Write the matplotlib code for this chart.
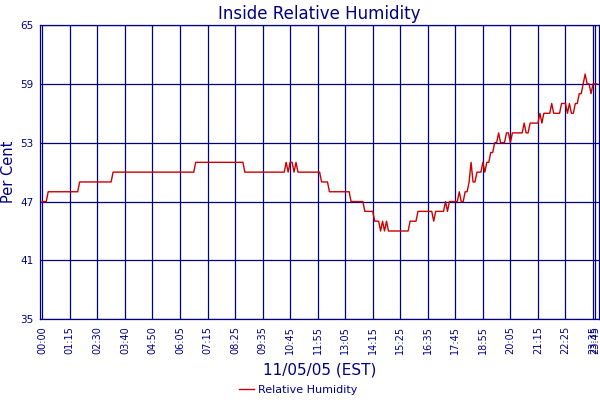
import numpy as np
import matplotlib
matplotlib.use("Agg")
import matplotlib.pyplot as plt

# relative humidity, 5 min samples, stored as runs (level, number of samples)
rh_levels = [47, 48, 49, 50, 51, 50, 51, 50, 51, 50, 51, 50, 49, 48, 47, 46, 45, 44, 45, 44,
             45, 44, 45, 46, 45, 46, 47, 46, 47, 48, 47, 48, 49, 51, 49, 50, 51, 50, 51, 52,
             53, 54, 53, 54, 53, 54, 55, 54, 55, 56, 55, 56, 57, 56, 57, 56, 57, 56, 57, 58,
             59, 60, 59, 58, 59]
rh_counts = [3, 16, 17, 42, 25, 21, 1, 1, 2, 1, 1, 12, 4, 11, 7, 5, 3, 1, 1, 1,
             1, 11, 4, 8, 1, 5, 1, 1, 5, 1, 2, 2, 1, 1, 2, 3, 1, 1, 2, 2,
             2, 1, 3, 2, 1, 6, 1, 2, 5, 1, 1, 4, 1, 4, 3, 1, 1, 2, 2, 2,
             1, 1, 2, 1, 3]

tick_pos = [0, 14, 28, 42, 56, 70, 84, 98, 112, 126, 140, 154, 168, 182, 196,
            210, 224, 238, 252, 266, 280, 281]
tick_labels = ["00:00", "01:15", "02:30", "03:40", "04:50", "06:05", "07:15", "08:25",
               "09:35", "10:45", "11:55", "13:05", "14:15", "15:25", "16:35", "17:45",
               "18:55", "20:05", "21:15", "22:25", "23:35", "23:45"]
y_ticks = [35, 41, 47, 53, 59, 65]

rh = np.repeat(rh_levels, rh_counts)
idx = np.arange(len(rh))

navy = "#000080"
plt.rcParams["font.family"] = ["DejaVu Sans"]

fig = plt.figure(figsize=(6, 4), dpi=100)
ax = fig.add_axes([0.0672, 0.2018, 0.931, 0.7357])

ax.plot(idx, rh, color="#cc0000", lw=1.0, label="Relative Humidity")

ax.set_xlim(-1, len(rh))
ax.set_ylim(35, 65)
ax.set_xticks(tick_pos)
ax.set_xticklabels(tick_labels, rotation=90, fontsize=7, color=navy)
ax.set_yticks(y_ticks)
ax.set_yticklabels([str(v) for v in y_ticks], fontsize=7.5, color=navy)
ax.tick_params(length=0, pad=5)
ax.grid(True, color=navy, lw=0.9)
ax.set_axisbelow(True)
for s in ax.spines.values():
    s.set_color(navy)
    s.set_linewidth(0.9)

ax.set_title("Inside Relative Humidity", color=navy, fontsize=12, pad=4)
ax.set_ylabel("Per Cent", color=navy, fontsize=10.5)
ax.yaxis.set_label_coords(-0.043, 0.5)
ax.set_xlabel("11/05/05 (EST)", color=navy, fontsize=11, labelpad=6)

leg = fig.legend(loc="center", bbox_to_anchor=(0.497, 0.025), frameon=False,
                 fontsize=8, handlelength=1.3, handletextpad=0.4)
for t in leg.get_texts():
    t.set_color(navy)

fig.savefig("out.png", dpi=100)
